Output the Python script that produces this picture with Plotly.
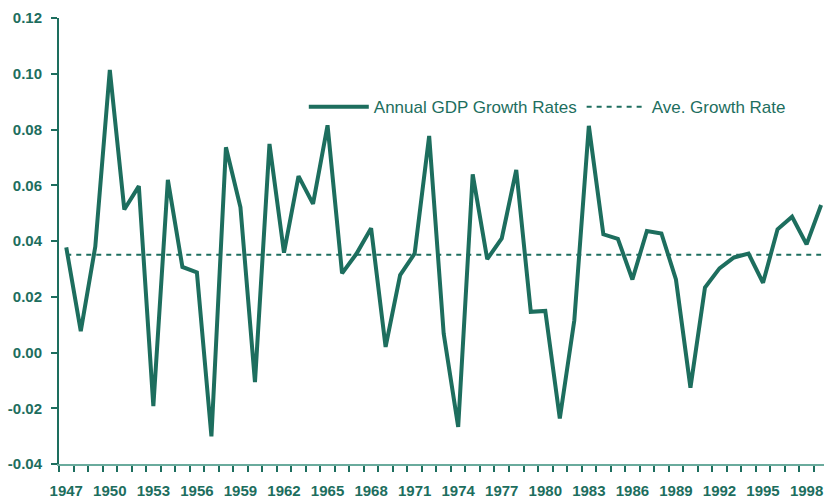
import plotly.graph_objects as go

years = list(range(1947, 2000))
growth = [0.0377, 0.0077, 0.0380, 0.1014, 0.0513, 0.0597, -0.0192, 0.0619, 0.0307, 0.0287,
          -0.0301, 0.0736, 0.0521, -0.0106, 0.0748, 0.0358, 0.0633, 0.0533, 0.0815, 0.0284,
          0.0355, 0.0446, 0.0020, 0.0278, 0.0355, 0.0777, 0.0068, -0.0267, 0.0639, 0.0335,
          0.0409, 0.0655, 0.0146, 0.0149, -0.0237, 0.0116, 0.0813, 0.0424, 0.0408, 0.0262,
          0.0436, 0.0427, 0.0262, -0.0126, 0.0233, 0.0302, 0.0341, 0.0355, 0.0250, 0.0442,
          0.0487, 0.0388, 0.0529]
avg_rate = 0.0351
avg_line = [avg_rate] * len(years)

x_tick_vals = list(range(1947, 2000, 3))
x_tick_text = [str(v) for v in x_tick_vals]
y_tick_vals = [-0.04, -0.02, 0.0, 0.02, 0.04, 0.06, 0.08, 0.10, 0.12]
y_tick_text = ["-0.04", "-0.02", "0.00", "0.02", "0.04", "0.06", "0.08", "0.10", "0.12"]

TEAL = "#1d6e5e"
LIGHT = "#6aab9d"
FONT = "Liberation Sans Narrow, Arial Narrow, Liberation Sans, Arial, sans-serif"

fig = go.Figure()
fig.add_trace(go.Scatter(x=years, y=growth, mode="lines", name="Annual GDP Growth Rates",
                         line=dict(color=TEAL, width=4)))
fig.add_trace(go.Scatter(x=years, y=avg_line, mode="lines", name="Ave. Growth Rate",
                         line=dict(color=TEAL, width=2, dash="5px,5px")))

fig.update_layout(
    width=824, height=501,
    margin=dict(l=59, r=0, t=18, b=37),
    paper_bgcolor="white", plot_bgcolor="white",
    font=dict(family=FONT, color=TEAL),
    showlegend=True,
    legend=dict(orientation="h", x=0.32, y=0.80, xanchor="left", yanchor="middle",
                bgcolor="rgba(0,0,0,0)", font=dict(size=17, family=FONT, color=TEAL),
                itemwidth=60, tracegroupgap=0),
    xaxis=dict(range=[1946.5, 1999.2], showgrid=False, zeroline=False, automargin=False,
               showline=True, linecolor=LIGHT, linewidth=2,
               tickvals=x_tick_vals, ticktext=x_tick_text, ticks="", tickangle=0,
               tickfont=dict(size=15, family=FONT, color=TEAL, weight="bold"),
               ticklabelstandoff=12,
               minor=dict(tick0=1946.5, dtick=1, ticks="outside", ticklen=6,
                          tickwidth=1.5, tickcolor=TEAL, showgrid=False)),
    yaxis=dict(range=[-0.04, 0.12], showgrid=False, zeroline=False, automargin=False,
               showline=True, linecolor=TEAL, linewidth=2,
               tickvals=y_tick_vals, ticktext=y_tick_text, ticks="outside",
               ticklen=6, tickwidth=1.5, tickcolor=TEAL,
               tickfont=dict(size=15, family=FONT, color=TEAL, weight="bold"),
               ticklabelstandoff=6),
)

fig.write_html(
    "out.html",
    config={"displayModeBar": False},
    post_script="document.body.style.margin='0';document.body.style.overflow='hidden';",
)
